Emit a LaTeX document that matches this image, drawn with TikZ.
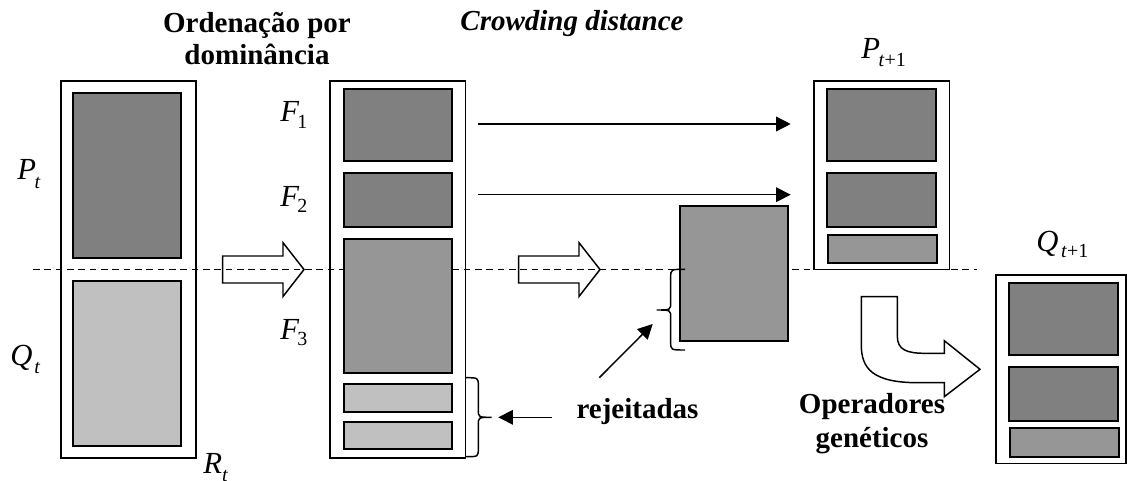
\documentclass[tikz,border=0pt]{standalone}
\usepackage{fontspec}
\setmainfont{Liberation Serif}
\usetikzlibrary{arrows.meta,fit}
\definecolor{dkgray}{HTML}{808080}
\definecolor{mdgray}{HTML}{969696}
\definecolor{ltgray}{HTML}{C0C0C0}
% #1 size, #2 letter, #3 sub size, #4 sub text, #5 kern, #6 lowering
\newcommand{\msub}[6]{{\fontsize{#1}{#1}\selectfont\textit{#2}}\kern#5\raisebox{-#6}{\fontsize{#3}{#3}\selectfont #4}}
\begin{document}
\begin{tikzpicture}[x=0.75pt,y=-0.75pt,
  every node/.style={inner sep=0pt, font=\fontsize{21.75}{25.5}\selectfont},
  outerbox/.style={draw=black, line width=1.1pt, inner sep=0pt},
  darkrect/.style={draw=black, line width=1.3pt, fill=dkgray, inner sep=0pt},
  midrect/.style={draw=black, line width=1.3pt, fill=mdgray, inner sep=0pt},
  lightrect/.style={draw=black, line width=1.3pt, fill=ltgray, inner sep=0pt},
  hollow/.style={draw=black, line width=1.1pt, line join=miter},
  dashline/.style={draw=black, line width=0.8pt, dash pattern=on 5pt off 3.5pt},
  solidarrow/.style={draw=black, line width=1.1pt, -{Triangle[length=11pt,width=11pt]}},
  bracestyle/.style={draw=black, line width=1.1pt},
  lab/.style={anchor=base west},
  title/.style={anchor=base, font=\fontsize{21.75}{25.5}\selectfont\bfseries},
]
\useasboundingbox (0,0) rectangle (1127,481);

% dashed separator
\coordinate (dlA) at (33,269.3);
\coordinate (dlB) at (977,269.3);
\draw[dashline] (dlA) -- (dlB);

% R_t box
\node[outerbox, fit={(61,81) (196,458)}] (Rt) {};
\node[darkrect, fit={(73,93) (181,258)}] (Pt) {};
\node[lightrect, fit={(73,281) (181,446)}] (Qt) {};

% middle box (fronts)
\node[outerbox, fit={(330,81) (465.7,458)}] (mid) {};
\node[darkrect, fit={(344,89.3) (451.7,161.3)}] (F1) {};
\node[darkrect, fit={(344,173.3) (451.7,227.3)}] (F2) {};
\node[midrect, fit={(344,238.7) (451.7,373.3)}] (F3) {};
\node[lightrect, fit={(344,384.3) (451.7,411.7)}] (L1) {};
\node[lightrect, fit={(344,422.3) (451.7,449.3)}] (L2) {};

% crowding rectangle
\node[midrect, fit={(680,206) (788.3,340.7)}] (cd) {};

% P_{t+1}
\node[outerbox, fit={(814,81) (949.3,269.3)}] (Pn) {};
\node[darkrect, fit={(827.3,89) (936,161.3)}] (Pn1) {};
\node[darkrect, fit={(827.3,173.3) (936,227.3)}] (Pn2) {};
\node[midrect, fit={(828.3,235) (936.7,263.3)}] (Pn3) {};

% Q_{t+1}
\node[outerbox, fit={(996,275) (1126,463.3)}] (Qn) {};
\node[darkrect, fit={(1009.3,283) (1117.7,355)}] (Qn1) {};
\node[darkrect, fit={(1009.3,366.7) (1117.7,421)}] (Qn2) {};
\node[midrect, fit={(1010,428.3) (1118.7,456.7)}] (Qn3) {};

% hollow arrows
\draw[hollow] (222.7,256) -- (283,256) -- (283,242.7) -- (304,269.5) -- (283,296.5) -- (283,283) -- (222.7,283) -- cycle;
\draw[hollow] (518.7,256) -- (579,256) -- (579,242.7) -- (600,269.5) -- (579,296.5) -- (579,283) -- (518.7,283) -- cycle;

% curved hollow arrow
\draw[hollow] (861.3,296.7) -- (897.3,296.7) -- (897.3,336)
  .. controls (897.3,350) and (907,353.3) .. (925,353.3)
  -- (944.3,353.3) -- (944.3,340.7) -- (980,369.3) -- (944.3,396.7) -- (944.3,382.7)
  -- (918,382.7) .. controls (872,382.7) and (861.3,368) .. (861.3,345) -- cycle;

% arrows F1, F2 -> P_{t+1}
\coordinate (a1) at (477.7,124);
\coordinate (b1) at (790.7,124);
\coordinate (a2) at (477.7,194.7);
\coordinate (b2) at (790.7,194.7);
\draw[solidarrow] (a1) -- (b1);
\draw[solidarrow] (a2) -- (b2);

% braces
\draw[bracestyle] (465.7,377.7) .. controls (478.3,377.7) .. (478.3,386)
  -- (478.3,409.5) .. controls (478.3,417.3) .. (491.7,417.3)
  .. controls (478.3,417.3) .. (478.3,425) -- (478.3,448.5)
  .. controls (478.3,456.7) .. (465.7,456.7);
\draw[bracestyle] (685,269.3) .. controls (670.7,269.3) .. (670.7,277.5)
  -- (670.7,302) .. controls (670.7,310) .. (656.7,310)
  .. controls (670.7,310) .. (670.7,318) -- (670.7,342)
  .. controls (670.7,350) .. (685,350);

% labels
\node[title] (t1) at (257,32.3) {Ordenação por};
\node[title] (t2) at (257,65) {dominância};
\node[title, font=\fontsize{21.75}{25.5}\selectfont\bfseries\itshape] (t3) at (572,30.7) {Crowding distance};
\node[title] (rej) at (637.5,418) {rejeitadas};
\node[title] (op1) at (872,413) {Operadores};
\node[title] (op2) at (872,447) {genéticos};

\node[lab] (lPt) at (17,180) {\msub{23pt}{P}{15pt}{\textit{t}}{-1pt}{6pt}};
\node[lab] (lQt) at (10,365) {\msub{23pt}{Q}{15pt}{\textit{t}}{1.5pt}{6pt}};
\node[lab] (lRt) at (203,473) {\msub{23pt}{R}{15pt}{\textit{t}}{0pt}{6pt}};
\node[lab] (lF1) at (280,122) {\msub{23pt}{F}{15pt}{1}{-1.5pt}{5pt}};
\node[lab] (lF2) at (280,206) {\msub{23pt}{F}{15pt}{2}{-1.5pt}{5pt}};
\node[lab] (lF3) at (280,339) {\msub{23pt}{F}{15pt}{3}{-1.5pt}{5pt}};
\node[lab] (lPn) at (861,59) {\msub{23pt}{P}{15pt}{\textit{t}+1}{-1pt}{6pt}};
\node[lab] (lQn) at (1036,251) {\msub{23pt}{Q}{15pt}{\textit{t}+1}{2pt}{5pt}};

% arrows from "rejeitadas"
\coordinate (r1) at (551.7,417.3);
\coordinate (r2) at (498.3,417.3);
\coordinate (r3) at (599.3,377.7);
\coordinate (r4) at (652.7,324);
\draw[solidarrow] (r1) -- (r2);
\draw[solidarrow] (r3) -- (r4);
\end{tikzpicture}
\end{document}
